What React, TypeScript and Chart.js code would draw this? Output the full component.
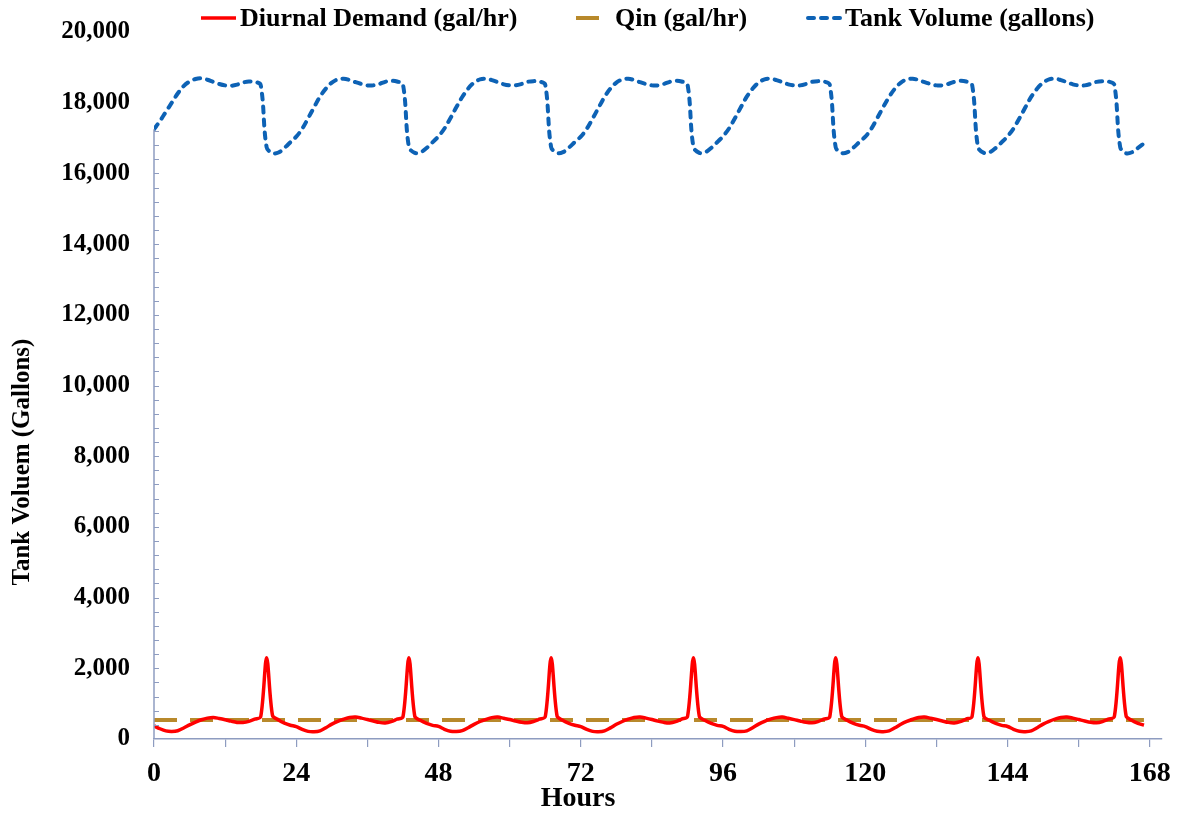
import React, { useEffect, useRef } from 'react';
import { Chart, registerables } from 'chart.js';

Chart.register(...registerables);

// ---------- data ----------
const HOURS = Array.from({ length: 168 }, (_, i) => i);

const DEMAND = [
  370, 290, 230, 215, 235, 310, 400, 480, 545, 590, 610, 580, 545, 505, 470, 470, 500, 560, 630, 2300, 660, 540, 450, 390,
  350, 270, 215, 205, 230, 320, 420, 500, 560, 610, 625, 590, 550, 510, 470, 455, 490, 560, 625, 2295, 640, 520, 440, 385,
  355, 275, 220, 210, 235, 320, 415, 495, 555, 605, 620, 585, 550, 510, 475, 460, 495, 560, 630, 2300, 645, 525, 445, 390,
  350, 270, 215, 205, 230, 315, 415, 495, 560, 610, 625, 590, 550, 505, 470, 455, 490, 565, 630, 2300, 640, 520, 440, 385,
  355, 275, 220, 210, 232, 320, 420, 500, 560, 605, 620, 585, 548, 508, 472, 458, 492, 560, 628, 2295, 645, 522, 442, 388,
  352, 272, 218, 207, 230, 318, 418, 498, 558, 608, 622, 588, 550, 510, 470, 456, 490, 562, 630, 2300, 642, 520, 440, 386,
  354, 274, 218, 208, 232, 320, 420, 498, 560, 610, 624, 590, 550, 508, 472, 458, 492, 560, 630, 2300, 645, 524, 444, 388,
];

const QIN_HOURS = [0, 167];
const QIN_VALUES = [537, 537];

const TANK = [
  17250, 17480, 17740, 18000, 18260, 18470, 18600, 18670, 18690, 18650, 18590, 18530, 18490, 18480, 18510, 18570, 18600, 18590, 18500, 16740, 16570, 16590, 16720, 16880,
  17040, 17260, 17560, 17870, 18170, 18400, 18570, 18660, 18680, 18640, 18580, 18530, 18490, 18490, 18530, 18590, 18620, 18600, 18520, 16750, 16580, 16600, 16720, 16880,
  17050, 17270, 17560, 17870, 18160, 18400, 18570, 18660, 18680, 18640, 18580, 18520, 18490, 18490, 18530, 18590, 18610, 18600, 18510, 16740, 16580, 16600, 16730, 16890,
  17040, 17260, 17550, 17860, 18160, 18400, 18570, 18660, 18680, 18640, 18580, 18530, 18490, 18490, 18530, 18590, 18620, 18600, 18520, 16750, 16580, 16600, 16720, 16880,
  17050, 17270, 17560, 17870, 18170, 18400, 18570, 18660, 18680, 18640, 18580, 18520, 18490, 18490, 18530, 18590, 18610, 18600, 18510, 16740, 16580, 16600, 16730, 16890,
  17040, 17260, 17560, 17870, 18160, 18400, 18570, 18660, 18680, 18640, 18580, 18530, 18490, 18490, 18530, 18590, 18620, 18600, 18520, 16750, 16580, 16600, 16720, 16880,
  17050, 17270, 17560, 17870, 18170, 18400, 18570, 18660, 18680, 18640, 18580, 18520, 18490, 18490, 18530, 18590, 18610, 18600, 18510, 16740, 16570, 16600, 16720, 16850,
];

const SERIES_LABELS = ['Diurnal Demand (gal/hr)', 'Qin (gal/hr)', 'Tank Volume (gallons)'];
const X_TITLE = 'Hours';
const Y_TITLE = 'Tank Voluem (Gallons)';

const X_MAX = 170;
const X_STEP = 12;
const X_LABEL_STEP = 24;
const Y_MAX = 20000;
const Y_STEP = 2000;
const Y_MINOR = 400;

// ---------- styles ----------
const FONT_FAMILY = '"Liberation Serif", "Times New Roman", serif';
const AXIS_COLOR = '#8e9cc0';
const RED = '#ff0000';
const GOLD = '#b8892b';
const BLUE = '#0d62b5';
const LEGEND_X = [201, 576, 806];
const LEGEND_Y = 18;

const decorPlugin = {
  id: 'decor',
  afterDraw(chart: any) {
    const { ctx, scales } = chart;
    const xs = scales.x;
    const ys = scales.y;
    const x0 = xs.getPixelForValue(0);
    ctx.save();
    // y axis line (ends at the tank's starting level) and its inner minor ticks
    ctx.strokeStyle = AXIS_COLOR;
    ctx.lineWidth = 1.5;
    ctx.beginPath();
    ctx.moveTo(x0, ys.getPixelForValue(0));
    ctx.lineTo(x0, ys.getPixelForValue(TANK[0]));
    ctx.stroke();
    ctx.lineWidth = 1.2;
    ctx.beginPath();
    for (let v = Y_MINOR; v <= TANK[0]; v += Y_MINOR) {
      const py = Math.round(ys.getPixelForValue(v)) + 0.5;
      ctx.moveTo(x0, py);
      ctx.lineTo(x0 + 5, py);
    }
    ctx.stroke();

    // axis titles
    ctx.fillStyle = '#000';
    ctx.textAlign = 'center';
    ctx.textBaseline = 'middle';
    ctx.font = `bold 28px ${FONT_FAMILY}`;
    ctx.fillText(X_TITLE, 578, 799);
    ctx.save();
    ctx.translate(23, 462);
    ctx.rotate(-Math.PI / 2);
    ctx.font = `bold 25px ${FONT_FAMILY}`;
    ctx.fillText(Y_TITLE, 0, 0);
    ctx.restore();

    // legend
    ctx.font = `bold 26px ${FONT_FAMILY}`;
    ctx.textAlign = 'left';
    chart.data.datasets.forEach((ds: any, i: number) => {
      const sx = LEGEND_X[i];
      ctx.save();
      ctx.strokeStyle = ds.borderColor;
      ctx.lineWidth = ds.borderWidth;
      ctx.lineCap = ds.borderCapStyle || 'butt';
      ctx.setLineDash(ds.borderDash || []);
      ctx.beginPath();
      ctx.moveTo(sx + (ds.borderCapStyle === 'round' ? 2 : 0), LEGEND_Y);
      ctx.lineTo(sx + 35, LEGEND_Y);
      ctx.stroke();
      ctx.restore();
      ctx.fillText(ds.label, sx + 39, LEGEND_Y + 1);
    });
    ctx.restore();
  },
};

export default function App() {
  const canvasRef = useRef<HTMLCanvasElement | null>(null);

  useEffect(() => {
    const canvas = canvasRef.current;
    if (!canvas) return;
    const chart = new Chart(canvas, {
      type: 'line',
      data: {
        datasets: [
          {
            label: SERIES_LABELS[0],
            data: HOURS.map((h, i) => ({ x: h, y: DEMAND[i] })),
            borderColor: RED,
            backgroundColor: RED,
            borderWidth: 3.5,
            pointRadius: 0,
            tension: 0.3,
            fill: false,
          },
          {
            label: SERIES_LABELS[1],
            data: QIN_HOURS.map((h, i) => ({ x: h, y: QIN_VALUES[i] })),
            borderColor: GOLD,
            backgroundColor: GOLD,
            borderWidth: 4,
            borderDash: [23, 13],
            pointRadius: 0,
            fill: false,
          },
          {
            label: SERIES_LABELS[2],
            data: HOURS.map((h, i) => ({ x: h, y: TANK[i] })),
            borderColor: BLUE,
            backgroundColor: BLUE,
            borderWidth: 4,
            borderDash: [6, 7],
            borderCapStyle: 'round',
            pointRadius: 0,
            tension: 0.35,
            fill: false,
          },
        ],
      },
      options: {
        responsive: false,
        animation: false,
        layout: { padding: { top: 32, right: 12, left: 0, bottom: 0 } },
        plugins: {
          legend: { display: false },
          tooltip: { enabled: false },
          title: { display: false },
        },
        scales: {
          x: {
            type: 'linear',
            min: 0,
            max: X_MAX,
            afterFit: (scale: any) => {
              scale.height = 74;
            },
            grid: {
              display: true,
              drawOnChartArea: false,
              drawTicks: true,
              tickLength: 8,
              color: AXIS_COLOR,
              lineWidth: 1.2,
            },
            border: { display: true, color: AXIS_COLOR, width: 1.5 },
            ticks: {
              stepSize: X_STEP,
              includeBounds: false,
              autoSkip: false,
              maxRotation: 0,
              padding: 10,
              color: '#000',
              font: { family: FONT_FAMILY, size: 28, weight: 'bold' },
              callback: (v: any) => (Number(v) % X_LABEL_STEP === 0 ? String(v) : ''),
            },
          },
          y: {
            type: 'linear',
            min: 0,
            max: Y_MAX,
            afterFit: (scale: any) => {
              scale.width = 154;
              scale.paddingTop = 0;
              scale.paddingBottom = 0;
            },
            grid: { display: false, drawTicks: false },
            border: { display: false },
            ticks: {
              stepSize: Y_STEP,
              padding: 24,
              color: '#000',
              font: { family: FONT_FAMILY, size: 25, weight: 'bold' },
              callback: (v: any) => Number(v).toLocaleString('en-US'),
            },
          },
        },
      },
      plugins: [decorPlugin],
    });
    return () => chart.destroy();
  }, []);

  return (
    <div style={{ position: 'fixed', left: 0, top: 0, width: 1181, height: 813, background: '#fff' }}>
      <canvas ref={canvasRef} width={1181} height={813} style={{ width: 1181, height: 813, display: 'block' }} />
    </div>
  );
}
